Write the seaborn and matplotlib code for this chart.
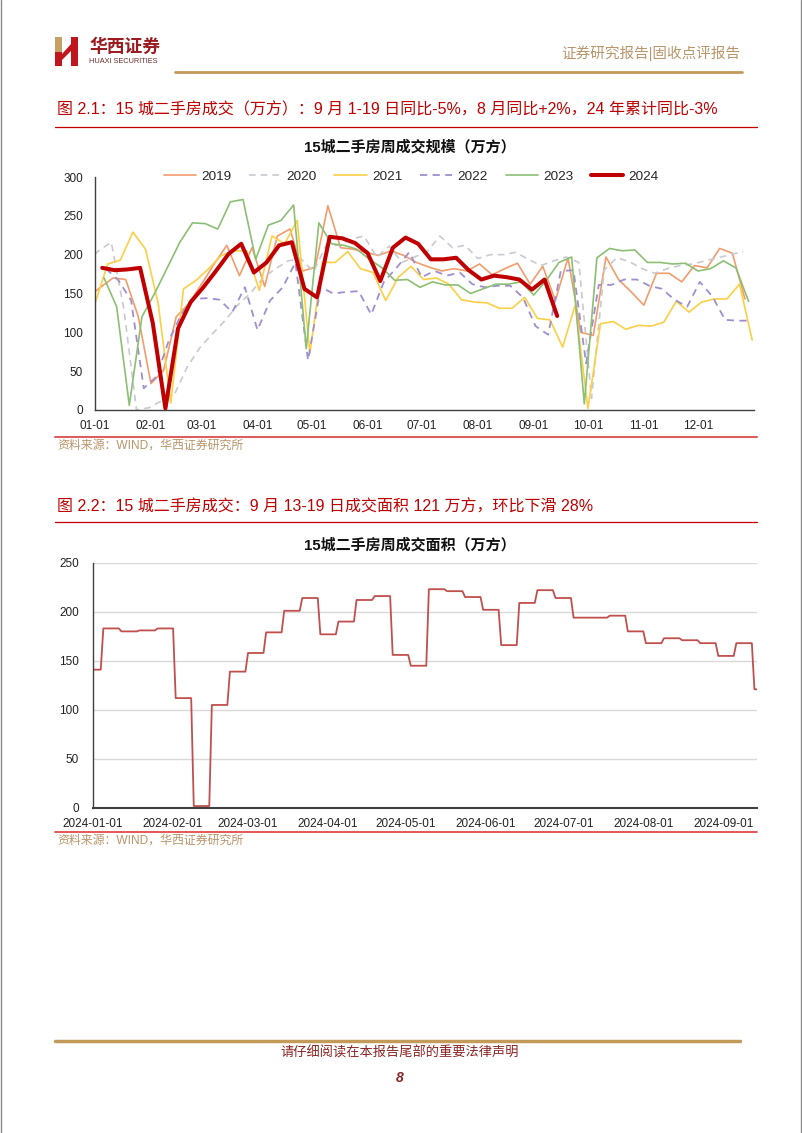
import numpy as np
import pandas as pd
import matplotlib
matplotlib.use("Agg")
import matplotlib.pyplot as plt
import seaborn as sns
from matplotlib.lines import Line2D
from matplotlib.patches import Polygon

sns.set_theme(style="white")
plt.rcParams["font.family"] = ["Liberation Sans", "Noto Sans CJK SC", "DejaVu Sans"]
plt.rcParams["axes.unicode_minus"] = False

# ---------------- data (weekly, 万方) ----------------
years = ["2019", "2020", "2021", "2022", "2023", "2024"]
first_week = ["2018-12-28", "2019-12-27", "2021-01-01", "2022-01-07", "2023-01-06", "2024-01-05"]

v2019 = [145, 158, 170, 168, 120, 34, 51, 120, 137, 162, 188, 212, 173, 209, 159, 224, 233, 179, 184, 263,
         209, 207, 203, 199, 205, 199, 190, 184, 179, 182, 179, 188, 174, 182, 189, 162, 185, 141, 196, 100,
         96, 197, 168, 152, 135, 176, 176, 165, 186, 183, 208, 202, 143]
v2020 = [190, 205, 216, 130, 0, 3, 12, 20, 55, 80, 98, 115, 135, 150, 170, 182, 192, 195, 178, 212,
         212, 220, 224, 197, 211, 190, 197, 204, 224, 209, 212, 195, 200, 200, 203, 194, 186, 192, 197, 190,
         15, 180, 196, 191, 182, 176, 182, 186, 188, 192, 196, 200, 204]
v2021 = [137, 188, 193, 229, 207, 137, 9, 156, 167, 182, 199, 205, 205, 154, 224, 214, 244, 73, 190, 190,
         204, 182, 177, 141, 171, 185, 168, 170, 162, 142, 139, 138, 131, 131, 145, 118, 116, 81, 135, 2,
         111, 114, 104, 109, 108, 113, 140, 126, 139, 143, 143, 162, 90]
v2022 = [182, 167, 141, 28, 43, 90, 124, 143, 144, 142, 126, 158, 103, 141, 158, 190, 64, 158, 150, 152,
         153, 123, 165, 183, 203, 171, 179, 173, 177, 162, 158, 160, 160, 145, 108, 97, 179, 180, 60, 161,
         161, 168, 168, 160, 156, 142, 133, 165, 146, 116, 115, 115]
v2023 = [170, 133, 6, 120, 150, 183, 216, 241, 240, 233, 268, 271, 194, 238, 244, 264, 79, 241, 214, 212,
         207, 194, 183, 167, 168, 158, 165, 161, 161, 150, 156, 162, 162, 165, 148, 167, 190, 197, 8, 196,
         208, 205, 206, 190, 190, 188, 189, 179, 182, 192, 183, 140]
# 2024 weekly area, first value is the week dated 2023-12-29
wk2024_start = "2023-12-29"
v2024 = [141, 183, 180, 181, 183, 112, 2, 105, 139, 158, 179, 201, 214, 177, 190, 212, 216, 156, 145, 223,
         221, 215, 202, 166, 209, 222, 214, 194, 194, 196, 180, 168, 173, 171, 168, 155, 168, 121]

month_labels = ["01-01", "02-01", "03-01", "04-01", "05-01", "06-01",
                "07-01", "08-01", "09-01", "10-01", "11-01", "12-01"]
month_days = [0, 31, 59, 90, 120, 151, 181, 212, 243, 273, 304, 334]

colors = {"2019": "#F29C6C", "2020": "#C9C9D4", "2021": "#FCCF45",
          "2022": "#A08ED0", "2023": "#8CBF73", "2024": "#C00000"}
widths = {"2019": 1.2, "2020": 1.2, "2021": 1.2, "2022": 1.3, "2023": 1.2, "2024": 2.9}
styles = {"2019": "-", "2020": (0, (4, 3)), "2021": "-", "2022": (0, (4, 3)), "2023": "-", "2024": "-"}

# ---------------- build frames ----------------
w24 = pd.Series(v2024, index=pd.date_range(wk2024_start, periods=len(v2024), freq="7D"))
series = {"2019": v2019, "2020": v2020, "2021": v2021, "2022": v2022, "2023": v2023,
          "2024": list(w24[w24.index >= "2024-01-01"].values)}
rows = []
for y, start in zip(years, first_week):
    vals = series[y]
    dates = pd.date_range(start, periods=len(vals), freq="7D")
    days = (dates - pd.Timestamp(f"{y}-01-01")).days
    for d, v in zip(days, vals):
        rows.append({"year": y, "day": d, "value": v})
df1 = pd.DataFrame(rows)

daily = w24.reindex(pd.date_range(wk2024_start, "2024-09-14", freq="D")).ffill()
daily = daily[daily.index >= "2024-01-01"]
df2 = pd.DataFrame({"date": daily.index, "value": daily.values})

# ---------------- figure ----------------
W, H = 802, 1133
fig = plt.figure(figsize=(W / 100, H / 100), dpi=100)
fig.patch.set_facecolor("white")

def fx(px):
    return px / W

def fy(py):
    return 1 - py / H

RED = "#C00000"
GOLD = "#C49A5A"
TAN = "#B8956A"

# page border
for xx in (0.8, 800.5):
    fig.add_artist(Line2D([fx(xx), fx(xx)], [0, 1], color="#8A8A8A", lw=1.0))

# logo
def poly(pts, color):
    fig.add_artist(Polygon([(fx(a), fy(b)) for a, b in pts], closed=True,
                           facecolor=color, edgecolor="none", transform=fig.transFigure))

poly([(55, 37), (62, 37), (62, 52), (55, 52)], "#C9A063")
poly([(55, 52), (62, 52), (62, 66), (55, 66)], "#C0161D")
poly([(71, 37), (78, 37), (78, 66), (71, 66)], "#C0161D")
poly([(62, 54), (71, 44), (71, 51), (62, 60)], "#C0161D")
fig.text(fx(89), fy(47), "华西证券", fontsize=12.8, fontweight="bold", color="#9B1B20",
         ha="left", va="center")
fig.text(fx(89), fy(61.5), "HUAXI SECURITIES", fontsize=5.3, color="#6E2B2B", ha="left", va="center")
fig.text(fx(740), fy(53), "证券研究报告|固收点评报告", fontsize=10.5, color=TAN, ha="right", va="center")
fig.add_artist(Line2D([fx(175), fx(742)], [fy(72), fy(72)], color=GOLD, lw=2.0))

# ---------------- chart 1 ----------------
fig.text(fx(57), fy(110), "图 2.1：15 城二手房成交（万方）：9 月 1-19 日同比-5%，8 月同比+2%，24 年累计同比-3%",
         fontsize=11.5, color=RED, ha="left", va="center")
fig.add_artist(Line2D([fx(55), fx(757)], [fy(127), fy(127)], color=RED, lw=0.9))
fig.text(fx(410), fy(147), "15城二手房周成交规模（万方）", fontsize=10.8, fontweight="bold",
         color="#111111", ha="center", va="center")

ax1 = fig.add_axes([fx(95), fy(410), fx(754) - fx(95), fy(177) - fy(410)])
for y in years:
    sub = df1[df1["year"] == y]
    sns.lineplot(data=sub, x="day", y="value", ax=ax1, color=colors[y], lw=widths[y],
                 linestyle=styles[y], estimator=None, sort=True, legend=False)
ax1.set_xlim(0, 365)
ax1.set_ylim(0, 300)
ax1.set_xticks(month_days + [365])
ax1.set_xticklabels(month_labels + [""])
ax1.set_yticks(range(0, 301, 50))
ax1.set_xlabel("")
ax1.set_ylabel("")
for s in ["top", "right"]:
    ax1.spines[s].set_visible(False)
for s in ["left", "bottom"]:
    ax1.spines[s].set_color("#404040")
    ax1.spines[s].set_linewidth(1.0)
ax1.tick_params(axis="x", direction="in", length=4, width=1, color="#404040", pad=7,
                labelsize=8.5, labelcolor="#222222")
ax1.tick_params(axis="y", direction="out", length=3.5, width=1, color="#404040", pad=5,
                labelsize=8.5, labelcolor="#222222")
ax1.set_facecolor("white")

handles = [Line2D([], [], color=colors[y], lw=widths[y], linestyle=styles[y]) for y in years]
ax1.legend(handles, years, loc="center", bbox_to_anchor=(0.48, 1.0), ncol=6, frameon=False,
           fontsize=9.7, handlelength=2.4, handletextpad=0.4, columnspacing=1.3)

fig.add_artist(Line2D([fx(55), fx(757)], [fy(437), fy(437)], color="#D9605E", lw=1.5))
fig.text(fx(57), fy(446), "资料来源：WIND，华西证券研究所", fontsize=8.6, color=TAN, ha="left", va="center")

# ---------------- chart 2 ----------------
fig.text(fx(57), fy(507), "图 2.2：15 城二手房成交：9 月 13-19 日成交面积 121 万方，环比下滑 28%",
         fontsize=11.5, color=RED, ha="left", va="center")
fig.add_artist(Line2D([fx(55), fx(757)], [fy(522), fy(522)], color=RED, lw=0.9))
fig.text(fx(410), fy(545), "15城二手房周成交面积（万方）", fontsize=10.8, fontweight="bold",
         color="#111111", ha="center", va="center")

ax2 = fig.add_axes([fx(93), fy(808), fx(757) - fx(93), fy(562.7) - fy(808)])
sns.lineplot(data=df2, x="date", y="value", ax=ax2, color="#C0504D", lw=1.3, estimator=None, legend=False)
ax2.set_xlim(pd.Timestamp("2024-01-01"), pd.Timestamp("2024-09-14"))
ax2.set_ylim(0, 250)
ax2.set_yticks(range(0, 251, 50))
mstarts = pd.date_range("2024-01-01", "2024-09-01", freq="MS")
ax2.set_xticks(mstarts)
ax2.set_xticklabels([d.strftime("%Y-%m-%d") for d in mstarts])
ax2.set_xlabel("")
ax2.set_ylabel("")
ax2.yaxis.grid(True, color="#D9D9D9", lw=1.0)
ax2.xaxis.grid(False)
ax2.set_axisbelow(True)
for s in ["top", "right"]:
    ax2.spines[s].set_visible(False)
ax2.spines["left"].set_color("#404040")
ax2.spines["left"].set_linewidth(1.0)
ax2.spines["bottom"].set_color("#404040")
ax2.spines["bottom"].set_linewidth(1.5)
ax2.tick_params(axis="x", length=0, pad=7, labelsize=8.5, labelcolor="#222222")
ax2.tick_params(axis="y", length=0, pad=10, labelsize=8.5, labelcolor="#222222")

fig.add_artist(Line2D([fx(55), fx(757)], [fy(832), fy(832)], color="#E03A3A", lw=1.2))
fig.text(fx(57), fy(841), "资料来源：WIND，华西证券研究所", fontsize=8.6, color=TAN, ha="left", va="center")

# ---------------- footer ----------------
fig.add_artist(Line2D([fx(55), fx(740)], [fy(1041), fy(1041)], color=GOLD, lw=2.5))
fig.text(fx(400), fy(1053), "请仔细阅读在本报告尾部的重要法律声明", fontsize=9.5, color="#8B2525",
         ha="center", va="center")
fig.text(fx(400), fy(1078), "8", fontsize=10, fontweight="bold", fontstyle="italic", color="#8B2525",
         ha="center", va="center")

fig.savefig("out.png", dpi=100, facecolor="white")
